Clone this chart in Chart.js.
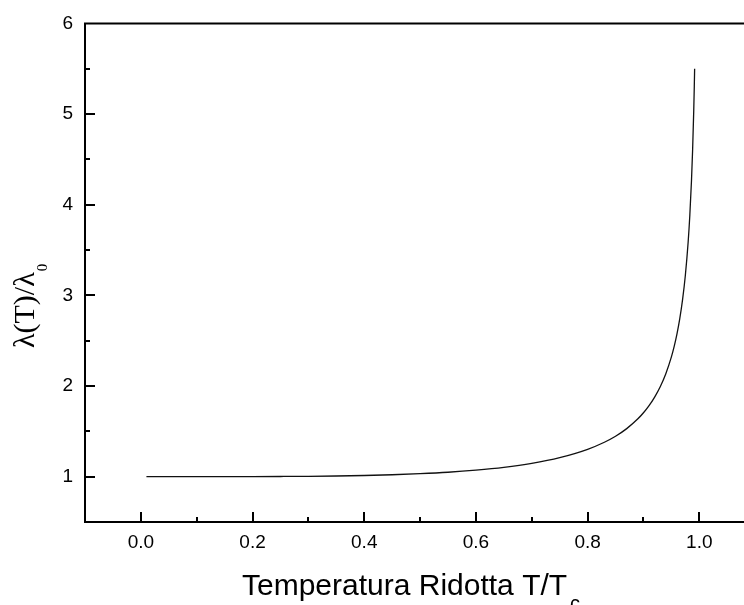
<!DOCTYPE html>
<html>
<head>
<meta charset="utf-8">
<script src="https://cdn.jsdelivr.net/npm/chart.js" type="text/javascript"></script>
<style>
  html, body { margin: 0; padding: 0; background: #fff; overflow: hidden; }
  canvas { display: block; }
</style>
</head>
<body>
<canvas id="chart" width="744" height="605"></canvas>
<script>
// Temperatura ridotta T/Tc
const tempRidotta = [
  0.01, 0.05, 0.10, 0.15, 0.20, 0.25, 0.30, 0.35, 0.40, 0.45,
  0.50, 0.55, 0.60, 0.65, 0.70, 0.75, 0.80, 0.83, 0.85, 0.87,
  0.89, 0.90, 0.91, 0.92, 0.93, 0.94, 0.95, 0.955, 0.96, 0.965,
  0.97, 0.975, 0.98, 0.983, 0.986, 0.988, 0.990, 0.991, 0.9916
];
// lambda(T)/lambda0
const lambdaRel = [
  1.000, 1.000, 1.000, 1.0003, 1.0008, 1.002, 1.004, 1.0076, 1.013, 1.021,
  1.033, 1.049, 1.072, 1.103, 1.147, 1.210, 1.302, 1.380, 1.446, 1.530,
  1.638, 1.705, 1.784, 1.878, 1.992, 2.136, 2.322, 2.438, 2.576, 2.744,
  2.953, 3.222, 3.589, 3.884, 4.270, 4.606, 5.038, 5.306, 5.500
];

const xTicks = [0.0, 0.2, 0.4, 0.6, 0.8, 1.0];
const xMinorTicks = [0.1, 0.3, 0.5, 0.7, 0.9];
const yTicks = [1, 2, 3, 4, 5, 6];
const yMinorTicks = [1.5, 2.5, 3.5, 4.5, 5.5];

const xTitle = "Temperatura Ridotta T/T";
const xTitleSub = "c";
const yTitle = "\u03bb(T)/\u03bb";
const yTitleSub = "0";

//------- plugin: cornice, tacche interne e titoli con pedici ---------------
const framePlugin = {
  id: "frame",
  afterDraw(chart) {
    const ctx = chart.ctx;
    const area = chart.chartArea;
    const xs = chart.scales.x;
    const ys = chart.scales.y;
    ctx.save();
    ctx.strokeStyle = "#000";
    ctx.lineWidth = 2;
    ctx.beginPath();
    // assi e bordo superiore
    ctx.moveTo(area.left, area.top);
    ctx.lineTo(area.right, area.top);
    ctx.moveTo(area.left, area.top - 1);
    ctx.lineTo(area.left, area.bottom + 1);
    ctx.moveTo(area.left - 1, area.bottom);
    ctx.lineTo(area.right, area.bottom);
    // tacche x
    xTicks.forEach(v => {
      const px = Math.round(xs.getPixelForValue(v));
      ctx.moveTo(px, area.bottom);
      ctx.lineTo(px, area.bottom - 10);
    });
    xMinorTicks.forEach(v => {
      const px = Math.round(xs.getPixelForValue(v));
      ctx.moveTo(px, area.bottom);
      ctx.lineTo(px, area.bottom - 5);
    });
    // tacche y
    yTicks.filter(v => v < 6).forEach(v => {
      const py = Math.round(ys.getPixelForValue(v));
      ctx.moveTo(area.left, py);
      ctx.lineTo(area.left + 10, py);
    });
    yMinorTicks.forEach(v => {
      const py = Math.round(ys.getPixelForValue(v));
      ctx.moveTo(area.left, py);
      ctx.lineTo(area.left + 5, py);
    });
    ctx.stroke();

    // titolo asse x
    ctx.fillStyle = "#000";
    ctx.textBaseline = "alphabetic";
    ctx.textAlign = "left";
    ctx.font = "30px 'Liberation Sans', Arial, sans-serif";
    ctx.fillText(xTitle, 242, 595);
    const w = ctx.measureText(xTitle).width;
    ctx.font = "20px 'Liberation Sans', Arial, sans-serif";
    ctx.fillText(xTitleSub, 242 + w + 3, 610);

    // titolo asse y
    ctx.translate(34, 348);
    ctx.rotate(-Math.PI / 2);
    ctx.font = "30px 'Liberation Serif', 'Times New Roman', serif";
    ctx.fillText(yTitle, 0, 0);
    const wy = ctx.measureText(yTitle).width;
    ctx.font = "15px 'Liberation Serif', 'Times New Roman', serif";
    ctx.fillText(yTitleSub, wy + 1, 13);
    ctx.restore();
  }
};

const tickFont = { family: "'Liberation Sans', Arial, sans-serif", size: 19 };

new Chart(document.getElementById("chart").getContext("2d"), {
  type: "line",
  data: {
    datasets: [{
      data: tempRidotta.map((t, i) => ({ x: t, y: lambdaRel[i] })),
      borderColor: "#111",
      borderWidth: 1.3,
      pointRadius: 0,
      fill: false,
      cubicInterpolationMode: "monotone"
    }]
  },
  options: {
    responsive: false,
    animation: false,
    layout: { padding: { top: 22, right: 0, left: 0, bottom: 0 } },
    plugins: { legend: { display: false }, tooltip: { enabled: false } },
    scales: {
      x: {
        type: "linear",
        min: -0.1,
        max: 1.08,
        grid: { display: false, drawTicks: false },
        border: { display: false },
        afterBuildTicks: scale => { scale.ticks = xTicks.map(v => ({ value: v })); },
        afterFit: scale => { scale.height = 83; },
        ticks: {
          color: "#000",
          font: tickFont,
          padding: 9,
          maxRotation: 0,
          autoSkip: false,
          callback: v => v.toFixed(1)
        }
      },
      y: {
        type: "linear",
        min: 0.5,
        max: 6,
        grid: { display: false, drawTicks: false },
        border: { display: false },
        afterBuildTicks: scale => { scale.ticks = yTicks.map(v => ({ value: v })); },
        afterFit: scale => { scale.width = 85; },
        ticks: {
          color: "#000",
          font: tickFont,
          padding: 12,
          autoSkip: false,
          callback: v => String(v)
        }
      }
    }
  },
  plugins: [framePlugin]
});
</script>
</body>
</html>
